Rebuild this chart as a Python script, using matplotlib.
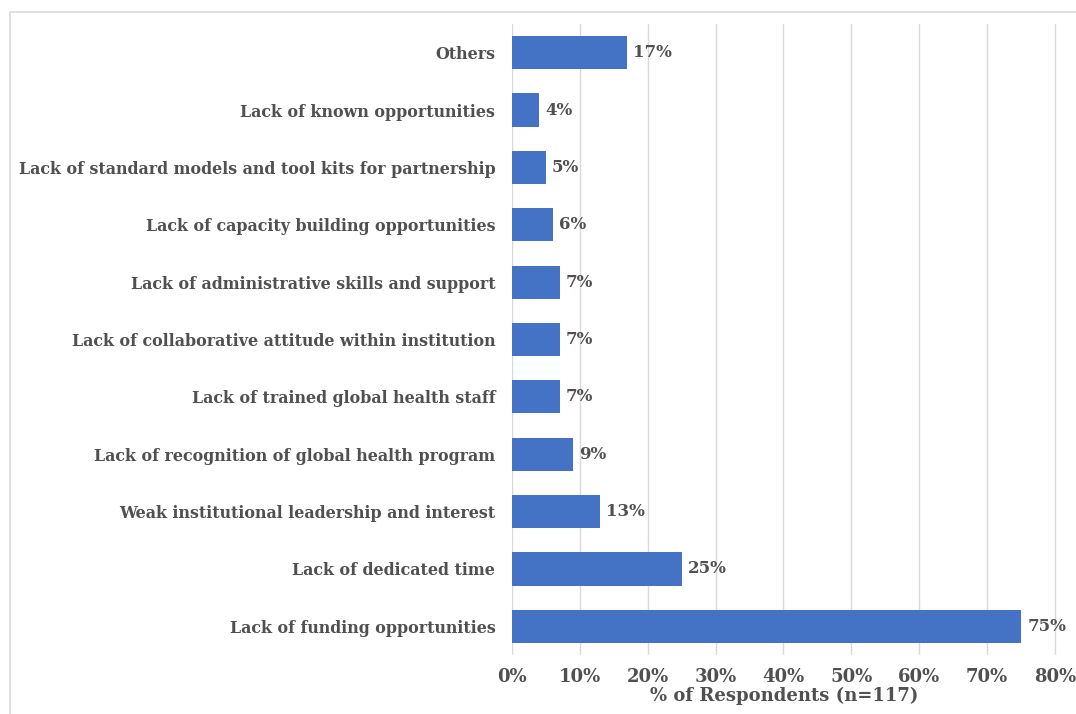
import matplotlib
matplotlib.use("Agg")
import matplotlib.pyplot as plt
from matplotlib.patches import Rectangle

categories = [
    "Lack of funding opportunities",
    "Lack of dedicated time",
    "Weak institutional leadership and interest",
    "Lack of recognition of global health program",
    "Lack of trained global health staff",
    "Lack of collaborative attitude within institution",
    "Lack of administrative skills and support",
    "Lack of capacity building opportunities",
    "Lack of standard models and tool kits for partnership",
    "Lack of known opportunities",
    "Others",
]
percent = [75, 25, 13, 9, 7, 7, 7, 6, 5, 4, 17]
x_ticks = [0, 10, 20, 30, 40, 50, 60, 70, 80]

bar_color = "#4472C4"
text_color = "#505050"
grid_color = "#D9D9D9"
font = ["DejaVu Serif"]

fig = plt.figure(figsize=(10.76, 7.14), dpi=100)
fig.patches.append(Rectangle((10 / 1076, -0.1), 1.2, 1.1 - 12 / 714,
                             transform=fig.transFigure, fill=False,
                             edgecolor="#D9D9D9", linewidth=1.2))

ax = fig.add_axes([512 / 1076, 1 - 655 / 714, (1057 - 512) / 1076, (655 - 24) / 714])
ypos = list(range(len(categories)))
ax.barh(ypos, percent, height=0.58, color=bar_color, zorder=3)

for y, v in zip(ypos, percent):
    ax.text(v + 0.9, y, f"{v}%", va="center", ha="left", fontsize=12,
            fontweight="bold", color=text_color, family=font)

ax.set_xlim(0, 80.3)
ax.set_ylim(-0.5, len(categories) - 0.5)
ax.set_xticks(x_ticks)
ax.set_xticklabels([f"{t}%" for t in x_ticks], fontsize=13, fontweight="bold",
                   color=text_color, family=font)
ax.set_yticks(ypos)
ax.set_yticklabels(categories, fontsize=11.4, fontweight="bold",
                   color=text_color, family=font)
ax.tick_params(axis="y", length=0, pad=12)
ax.tick_params(axis="x", length=0, pad=9)
ax.grid(axis="x", color=grid_color, linewidth=1, zorder=0)
for s in ax.spines.values():
    s.set_visible(False)
ax.set_xlabel("% of Respondents (n=117)", fontsize=13, fontweight="bold",
              color=text_color, family=font, labelpad=1)

fig.savefig("out.png", dpi=100)
